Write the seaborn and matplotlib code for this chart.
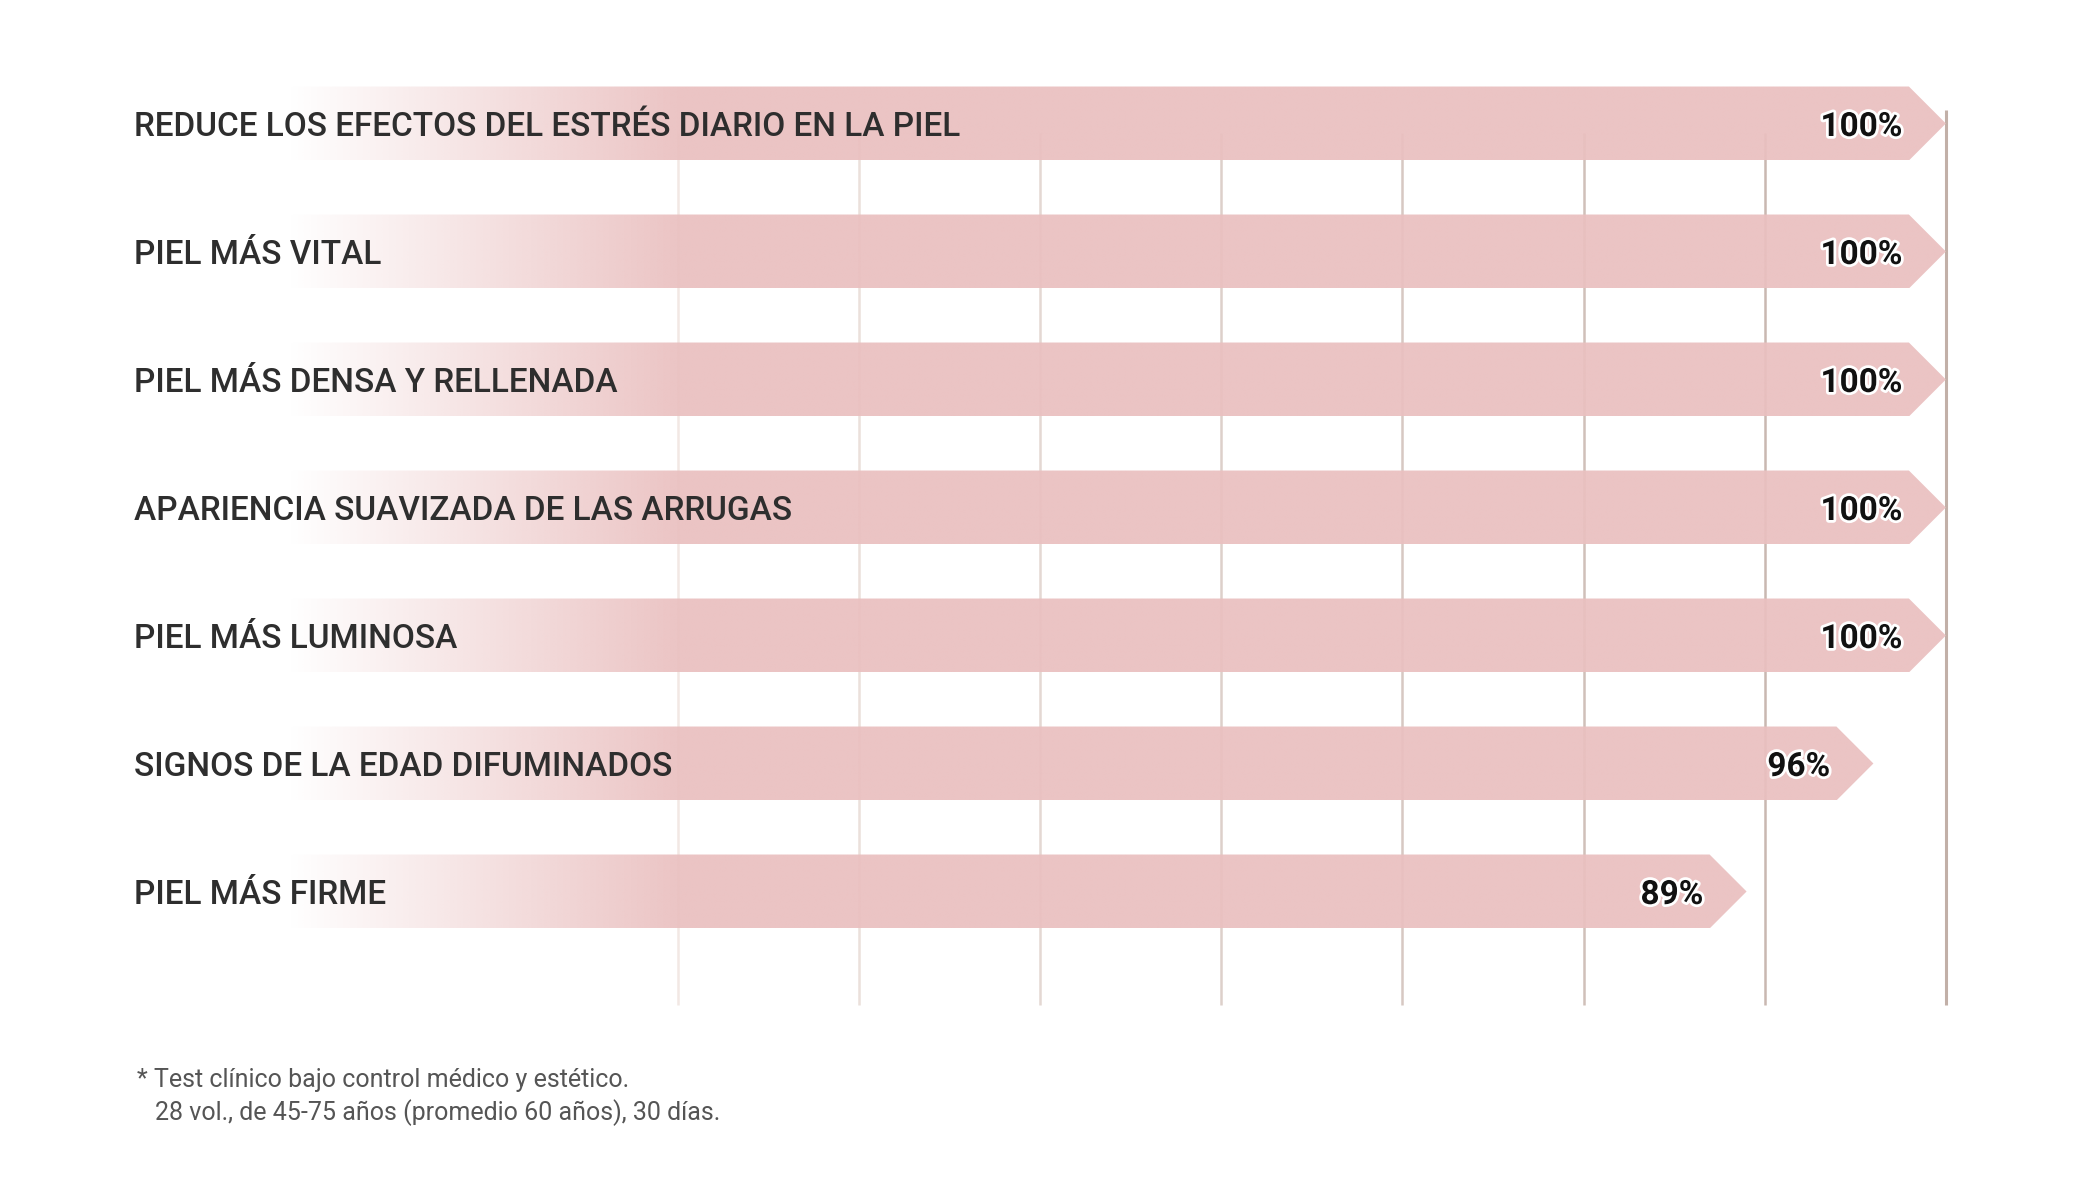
import numpy as np
import matplotlib
matplotlib.use("Agg")
import matplotlib.pyplot as plt
import seaborn as sns
import pandas as pd
from matplotlib.patches import Polygon
from matplotlib import patheffects as pe
from matplotlib.colors import to_rgb

# ---------------- data ----------------
categories = [
    "REDUCE LOS EFECTOS DEL ESTRÉS DIARIO EN LA PIEL",
    "PIEL MÁS VITAL",
    "PIEL MÁS DENSA Y RELLENADA",
    "APARIENCIA SUAVIZADA DE LAS ARRUGAS",
    "PIEL MÁS LUMINOSA",
    "SIGNOS DE LA EDAD DIFUMINADOS",
    "PIEL MÁS FIRME",
]
values = [100, 100, 100, 100, 100, 96, 89]
value_labels = ["100%", "100%", "100%", "100%", "100%", "96%", "89%"]
grid_ticks = [30, 40, 50, 60, 70, 80, 90, 100]
footnote_lines = [
    "* Test clínico bajo control médico y estético.",
    "28 vol., de 45-75 años (promedio 60 años), 30 días.",
]

# ---------------- style ----------------
PINK = "#eac0c0"
LABEL_COLOR = "#2e2e2e"
FOOT_COLOR = "#555555"

sns.set_theme(style="white")
plt.rcParams['font.family'] = ['Roboto', 'DejaVu Sans']

W, H = 2083, 1204
fig = plt.figure(figsize=(W / 100, H / 100), dpi=100)
ax = fig.add_axes([0, 0, 1, 1])

df = pd.DataFrame({"cat": categories, "val": values})
sns.barplot(data=df, x="val", y="cat", orient="h", width=0.578,
            color=PINK, ax=ax, zorder=2)

# pixel mapping (axes fill the figure)
px_per_unit = 18.12
x0_px = 133.9
xlim = (-x0_px / px_per_unit, (W - x0_px) / px_per_unit)
y0_px, row_px = 123.5, 128.0
ylim = ((H - y0_px) / row_px, -y0_px / row_px)

head = 0.5 * 0.578 * row_px / px_per_unit  # arrow head length (data units)

# gradient colour ramp
rgb = np.array(to_rgb(PINK))
N = 600
gx = np.linspace(0, 100, N)
alpha = np.clip((gx - 8.5) / (30.0 - 8.5), 0, 1) * 0.93
img = np.zeros((1, N, 4))
img[0, :, :3] = rgb
img[0, :, 3] = alpha

bars = list(ax.patches)
for bar, lab in zip(bars, value_labels):
    yb = bar.get_y()
    hb = bar.get_height()
    v = bar.get_width()
    yc = yb + hb / 2
    bar.set_visible(False)
    poly = Polygon([(0, yb), (v - head, yb), (v, yc), (v - head, yb + hb), (0, yb + hb)],
                   closed=True, facecolor="none", edgecolor="none", transform=ax.transData)
    ax.add_patch(poly)
    im = ax.imshow(img, extent=(0, 100, yb + hb, yb), aspect="auto",
                   interpolation="bilinear", zorder=2)
    im.set_clip_path(poly)
    ax.text(v - head - 0.35, yc, lab, ha="right", va="center_baseline",
            fontsize=24, fontweight="bold", color="#111111", zorder=4,
            path_effects=[pe.withStroke(linewidth=4, foreground="white")])

for i, cat in enumerate(categories):
    ax.text(0.0, i, cat, ha="left", va="center_baseline", fontsize=24,
            fontweight="medium", color=LABEL_COLOR, zorder=4)

# vertical guide lines
c_light = np.array(to_rgb("#f2e8e4"))
c_dark = np.array(to_rgb("#c2b0a8"))
for k, t in enumerate(grid_ticks):
    f = k / (len(grid_ticks) - 1)
    col = c_light * (1 - f) + c_dark * f
    top = (110 - y0_px) / row_px if t == grid_ticks[-1] else (133 - y0_px) / row_px
    ax.vlines(t, top, (1005 - y0_px) / row_px, colors=[col],
              linewidth=2.2 if t == grid_ticks[-1] else 1.8, zorder=1)

ax.set_xlim(*xlim)
ax.set_ylim(*ylim)
ax.set_axis_off()

# footnote
fig.text(137 / W, 1 - 1080 / H, footnote_lines[0], ha="left", va="center",
         fontsize=18, color=FOOT_COLOR)
fig.text(155 / W, 1 - 1113 / H, footnote_lines[1], ha="left", va="center",
         fontsize=18, color=FOOT_COLOR)

fig.savefig("out.png", dpi=100, facecolor="white")
